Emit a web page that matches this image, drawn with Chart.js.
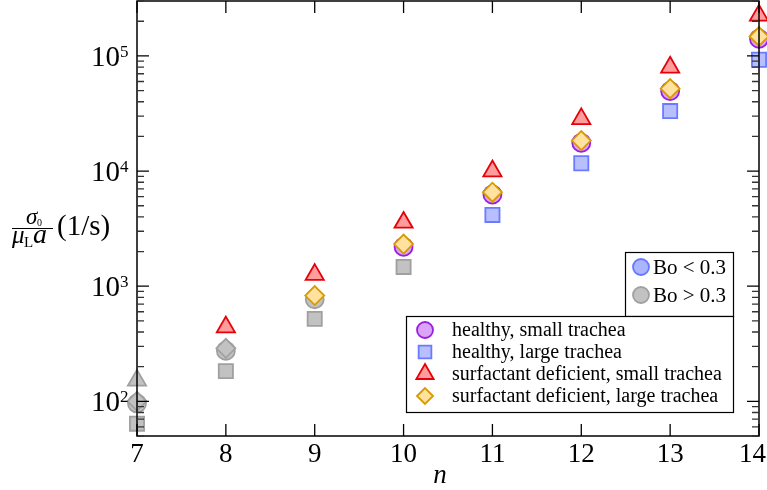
<!DOCTYPE html>
<html>
<head>
<meta charset="utf-8">
<script src="https://cdn.jsdelivr.net/npm/chart.js@4.4.0/dist/chart.umd.min.js"></script>
<style>
  html, body { margin: 0; padding: 0; background: #fff; }
  #c { display: block; }
</style>
</head>
<body>
<canvas id="c" width="767" height="490" style="width:767px;height:490px"></canvas>
<script>
// values
const nValues = [7, 8, 9, 10, 11, 12, 13, 14];
const healthySmall = [96, 275, 770, 2200, 6250, 17600, 49500, 141000];
const healthyLarge = [64, 183, 520, 1470, 4160, 11700, 33200, 92700];
const surfSmall = [152, 441, 1260, 3580, 10000, 28400, 79700, 225000];
const surfLarge = [100, 289, 830, 2320, 6550, 18400, 52000, 147500];
// true where Bo > 0.3 (grey marker)
const boHealthySmall = [true, true, true, false, false, false, false, false];
const boHealthyLarge = [true, true, true, true, false, false, false, false];
const boSurfSmall = [true, false, false, false, false, false, false, false];
const boSurfLarge = [true, true, false, false, false, false, false, false];

const yMajorTicks = [100, 1000, 10000, 100000];
const xTicks = [7, 8, 9, 10, 11, 12, 13, 14];
const seriesLabels = ['healthy, small trachea', 'healthy, large trachea',
  'surfactant deficient, small trachea', 'surfactant deficient, large trachea'];

const GREY_BG = '#c2c2c2', GREY_BD = '#a0a0a0';
const styles = [
  { bg: '#dca4f7', bd: '#9a1ee0', shape: 'circle', r: 9 },
  { bg: '#b8bfff', bd: '#6b7bff', shape: 'rect', r: 10 },
  { bg: '#ff9c9c', bd: '#e6000a', shape: 'triangle', r: 10.5 },
  { bg: '#ffe1a0', bd: '#d99a00', shape: 'rectRot', r: 9.5 }
];
const serif = '"Liberation Serif", "DejaVu Serif", serif';

function makeSet(i, values, flags, order) {
  const s = styles[i];
  return {
    label: seriesLabels[i],
    data: nValues.map((n, k) => ({ x: n, y: values[k] })),
    pointStyle: s.shape,
    pointRadius: s.r,
    pointHoverRadius: s.r,
    borderWidth: 1.8,
    backgroundColor: ctx => flags[ctx.dataIndex] ? GREY_BG : s.bg,
    borderColor: ctx => flags[ctx.dataIndex] ? GREY_BD : s.bd,
    order: order,
    clip: false
  };
}

const decor = {
  id: 'decor',
  afterDatasetsDraw(chart) {
    const { ctx, chartArea: a } = chart;
    const xs = chart.scales.x, ys = chart.scales.y;
    ctx.save();

    // frame
    ctx.strokeStyle = '#000';
    ctx.lineWidth = 1.5;
    ctx.strokeRect(a.left, a.top, a.right - a.left, a.bottom - a.top);

    // y ticks, both sides, pointing in
    ctx.lineWidth = 1.3;
    for (let e = 1; e <= 5; e++) {
      for (let m = 1; m <= 9; m++) {
        const v = m * Math.pow(10, e);
        if (v < ys.min || v > ys.max) continue;
        const y = ys.getPixelForValue(v);
        const len = m === 1 ? 12 : 7;
        ctx.strokeStyle = m === 1 ? '#000' : '#333';
        ctx.beginPath();
        ctx.moveTo(a.left, y); ctx.lineTo(a.left + len, y);
        ctx.moveTo(a.right, y); ctx.lineTo(a.right - len, y);
        ctx.stroke();
      }
    }
    // x ticks, top and bottom
    ctx.strokeStyle = '#000';
    xTicks.forEach(t => {
      const x = xs.getPixelForValue(t);
      ctx.beginPath();
      ctx.moveTo(x, a.bottom); ctx.lineTo(x, a.bottom - 12);
      ctx.moveTo(x, a.top); ctx.lineTo(x, a.top + 12);
      ctx.stroke();
    });

    // tick labels
    ctx.fillStyle = '#000';
    ctx.textBaseline = 'alphabetic';
    ctx.font = '27px ' + serif;
    ctx.textAlign = 'center';
    xTicks.forEach(t => {
      const lbl = String(t);
      const half = ctx.measureText(lbl).width / 2;
      const x = Math.min(xs.getPixelForValue(t), chart.width - 1 - half);
      ctx.fillText(lbl, x, 462);
    });
    yMajorTicks.forEach(v => {
      const y = ys.getPixelForValue(v);
      ctx.font = '29px ' + serif;
      ctx.textAlign = 'right';
      ctx.fillText('10', 120, y + 10);
      ctx.font = '17px ' + serif;
      ctx.textAlign = 'left';
      ctx.fillText(String(Math.round(Math.log10(v))), 120, y + 1);
    });

    // x title
    ctx.font = 'italic 27px ' + serif;
    ctx.textAlign = 'center';
    ctx.fillText('n', 440, 483);

    // y title: sigma_0 / (mu_L a) (1/s)
    ctx.textAlign = 'left';
    ctx.font = 'italic 23px ' + serif;
    ctx.fillText('σ', 26, 224);
    ctx.font = '10px ' + serif;
    ctx.fillText('0', 37, 226);
    ctx.lineWidth = 1.2;
    ctx.beginPath(); ctx.moveTo(12, 228.5); ctx.lineTo(53, 228.5); ctx.stroke();
    ctx.font = 'italic 25px ' + serif;
    ctx.fillText('μ', 12, 243);
    ctx.font = '15px ' + serif;
    ctx.fillText('L', 24, 247);
    ctx.font = 'italic 28px ' + serif;
    ctx.fillText('a', 33, 243);
    ctx.font = '29px ' + serif;
    ctx.fillText('(1/s)', 57, 235);

    // legend: Bo
    ctx.fillStyle = '#fff';
    ctx.fillRect(625, 252, 108, 64);
    ctx.strokeStyle = '#000';
    ctx.lineWidth = 1.2;
    ctx.strokeRect(625.5, 252.5, 108, 64);
    const boItems = [['Bo < 0.3', '#aab4ff', '#6677ff', 267], ['Bo > 0.3', GREY_BG, GREY_BD, 295]];
    boItems.forEach(([txt, bg, bd, y]) => {
      ctx.fillStyle = bg; ctx.strokeStyle = bd; ctx.lineWidth = 1.8;
      Chart.helpers.drawPoint(ctx, { pointStyle: 'circle', radius: 8, borderWidth: 1.8 }, 641, y);
      ctx.fillStyle = '#000';
      ctx.font = '21px ' + serif;
      ctx.fillText(txt, 653, y + 7);
    });

    // legend: series
    ctx.fillStyle = '#fff';
    ctx.fillRect(406, 316, 327, 96);
    ctx.strokeStyle = '#000';
    ctx.lineWidth = 1.2;
    ctx.strokeRect(406.5, 316.5, 327, 96);
    const legR = [8, 9, 10, 8];
    seriesLabels.forEach((txt, i) => {
      const y = 330 + i * 22;
      const s = styles[i];
      ctx.fillStyle = s.bg; ctx.strokeStyle = s.bd; ctx.lineWidth = 1.8;
      Chart.helpers.drawPoint(ctx, { pointStyle: s.shape, radius: legR[i], borderWidth: 1.8 }, 425, y);
      ctx.fillStyle = '#000';
      ctx.font = '20px ' + serif;
      ctx.fillText(txt, 452, y + 6);
    });

    ctx.restore();
  }
};

new Chart(document.getElementById('c'), {
  type: 'scatter',
  data: {
    datasets: [
      makeSet(0, healthySmall, boHealthySmall, 3),
      makeSet(1, healthyLarge, boHealthyLarge, 2),
      makeSet(2, surfSmall, boSurfSmall, 1),
      makeSet(3, surfLarge, boSurfLarge, 0)
    ]
  },
  options: {
    responsive: false,
    animation: false,
    devicePixelRatio: 1,
    layout: { autoPadding: false, padding: { left: 137, right: 8, top: 1, bottom: 54 } },
    plugins: { legend: { display: false }, tooltip: { enabled: false } },
    scales: {
      x: { type: 'linear', min: 7, max: 14, display: false },
      y: { type: 'logarithmic', min: 50, max: 300000, display: false }
    }
  },
  plugins: [decor]
});
</script>
</body>
</html>
